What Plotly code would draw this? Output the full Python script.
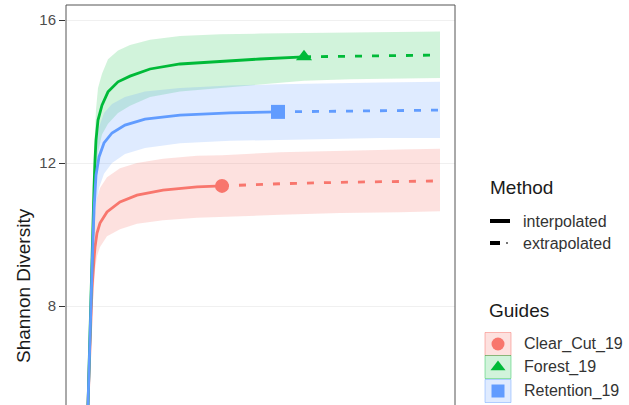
import plotly.graph_objects as go

# ---------------- data ----------------
sites = ["Clear_Cut_19", "Forest_19", "Retention_19"]
colors = ["#F8766D", "#00BA38", "#619CFF"]
bands = ["rgba(248,118,109,0.22)", "rgba(0,186,56,0.18)", "rgba(97,156,255,0.20)"]
key_lines = ["rgba(248,118,109,0.5)", "rgba(0,186,56,0.4)", "rgba(97,156,255,0.45)"]
symbols = ["circle", "triangle-up", "square"]

# Clear_Cut_19
cc_m = [8, 10, 12, 14, 15, 17, 20, 27, 40, 57, 83, 117, 142, 200, 260, 320, 360]
cc_qD = [5.23, 7.0, 8.5, 9.3, 9.65, 10.04, 10.32, 10.63, 10.91, 11.10, 11.24, 11.33, 11.36, 11.42, 11.46, 11.48, 11.50]
cc_up = [5.9, 7.8, 9.3, 10.2, 10.6, 11.0, 11.3, 11.6, 11.85, 12.0, 12.12, 12.2, 12.22, 12.3, 12.35, 12.38, 12.4]
cc_lo = [4.6, 6.2, 7.7, 8.6, 9.0, 9.4, 9.65, 9.95, 10.15, 10.3, 10.4, 10.47, 10.5, 10.55, 10.6, 10.62, 10.65]
cc_obs = 142

# Forest_19
fo_m = [8, 10, 12, 14, 15, 16, 18, 22, 28, 38, 50, 70, 100, 140, 180, 224, 270, 320, 360]
fo_qD = [5.23, 7.5, 9.5, 11.3, 12.08, 12.64, 13.20, 13.62, 13.99, 14.27, 14.43, 14.63, 14.77, 14.85, 14.91, 14.97, 14.99, 15.01, 15.02]
fo_up = [5.7, 8.1, 10.2, 12.1, 12.9, 13.5, 14.1, 14.5, 14.9, 15.15, 15.3, 15.45, 15.55, 15.6, 15.62, 15.63, 15.65, 15.67, 15.68]
fo_lo = [4.8, 6.9, 8.8, 10.5, 11.3, 11.8, 12.3, 12.8, 13.1, 13.4, 13.6, 13.85, 14.0, 14.1, 14.2, 14.3, 14.34, 14.37, 14.38]
fo_obs = 224

# Retention_19
re_m = [8, 10, 12, 14, 16, 19, 24, 32, 45, 65, 100, 150, 198, 250, 300, 360]
re_qD = [5.23, 7.33, 9.01, 10.69, 11.66, 12.17, 12.56, 12.84, 13.06, 13.23, 13.34, 13.40, 13.43, 13.45, 13.47, 13.48]
re_up = [5.9, 8.0, 9.8, 11.5, 12.5, 13.0, 13.4, 13.65, 13.85, 14.0, 14.1, 14.17, 14.2, 14.23, 14.25, 14.27]
re_lo = [4.6, 6.7, 8.3, 9.9, 10.8, 11.3, 11.7, 12.0, 12.25, 12.42, 12.55, 12.62, 12.66, 12.68, 12.7, 12.7]
re_obs = 198

y_ticks = [8, 12, 16]
method_labels = ["interpolated", "extrapolated"]

series = [
    (cc_m, cc_qD, cc_up, cc_lo, cc_obs),
    (fo_m, fo_qD, fo_up, fo_lo, fo_obs),
    (re_m, re_qD, re_up, re_lo, re_obs),
]

W, H = 629, 405
PL, PR, PT, PB = 66, 455, 5, 405
FONT = "Liberation Sans, Arial, sans-serif"

fig = go.Figure()

# confidence bands
for (m, qD, up, lo, obs), band in zip(series, bands):
    fig.add_trace(go.Scatter(
        x=m + m[::-1], y=up + lo[::-1], fill="toself", fillcolor=band,
        line=dict(width=0), mode="lines", hoverinfo="skip", showlegend=False))

# lines
for (m, qD, up, lo, obs), col in zip(series, colors):
    k = m.index(obs)
    fig.add_trace(go.Scatter(x=m[:k + 1], y=qD[:k + 1], mode="lines",
                             line=dict(color=col, width=2.8), showlegend=False))
    fig.add_trace(go.Scatter(x=m[k:], y=qD[k:], mode="lines",
                             line=dict(color=col, width=2.8, dash="7px,10px"),
                             showlegend=False))

# observed points
for (m, qD, up, lo, obs), col, sym in zip(series, colors, symbols):
    k = m.index(obs)
    fig.add_trace(go.Scatter(x=[m[k]], y=[qD[k]], mode="markers",
                             marker=dict(color=col, symbol=sym, size=14),
                             showlegend=False))

# ---------------- legend (drawn in a transparent pixel overlay) ----------------
fig.add_trace(go.Scatter(x=[490, 510], y=[221, 221], mode="lines", xaxis="x2", yaxis="y2",
                         line=dict(color="black", width=4), showlegend=False, hoverinfo="skip"))
fig.add_trace(go.Scatter(x=[490, 500], y=[243, 243], mode="lines", xaxis="x2", yaxis="y2",
                         line=dict(color="black", width=4), showlegend=False, hoverinfo="skip"))
fig.add_trace(go.Scatter(x=[506, 508], y=[243, 243], mode="lines", xaxis="x2", yaxis="y2",
                         line=dict(color="#777777", width=2), showlegend=False, hoverinfo="skip"))

key_y = [344, 367, 391]
shapes = []
for yy, band, kl, col, sym in zip(key_y, bands, key_lines, colors, symbols):
    shapes.append(dict(type="rect", xref="x2", yref="y2", x0=485, x1=511,
                       y0=yy - 11.5, y1=yy + 11.5, fillcolor=band,
                       line=dict(color=kl, width=1), layer="below"))
    fig.add_trace(go.Scatter(x=[498], y=[yy], mode="markers", xaxis="x2", yaxis="y2",
                             marker=dict(color=col, symbol=sym, size=13),
                             showlegend=False, hoverinfo="skip", cliponaxis=False))

# panel border (top, left, right)
for x0, y0, x1, y1 in [(0, 1, 1, 1), (0, 0, 0, 1), (1, 0, 1, 1)]:
    shapes.append(dict(type="line", xref="x domain", yref="y domain",
                       x0=x0, y0=y0, x1=x1, y1=y1, line=dict(color="#555555", width=1)))

annotations = []
def px_text(text, x, y, size, color="#1a1a1a", angle=0, anchor="left"):
    annotations.append(dict(text=text, xref="paper", yref="paper", x=x / W, y=1 - y / H,
                            xanchor=anchor, yanchor="middle", showarrow=False, textangle=angle,
                            font=dict(size=size, color=color, family=FONT)))

px_text("Method", 488, 188, 19)
px_text(method_labels[0], 521, 221, 16, color="#333333")
px_text(method_labels[1], 521, 243, 16, color="#333333")
px_text("Guides", 487, 310, 19)
for yy, s in zip(key_y, sites):
    px_text(s, 522, yy, 16, color="#333333")
px_text("Shannon Diversity", 23, 286, 19, angle=-90, anchor="center")

fig.update_layout(
    width=W, height=H,
    margin=dict(l=0, r=0, t=0, b=0),
    paper_bgcolor="white", plot_bgcolor="rgba(0,0,0,0)",
    showlegend=False,
    font=dict(family=FONT, color="#1a1a1a"),
    xaxis=dict(domain=[PL / W, PR / W], range=[-14, 375], showticklabels=False,
               ticks="", showgrid=False, zeroline=False, showline=False, automargin=False),
    yaxis=dict(domain=[0, (PB - PT) / H], range=[5.231, 16.42], tickvals=y_ticks,
               ticks="outside", ticklen=6, tickcolor="#333333", tickwidth=1,
               tickfont=dict(size=15, color="#4d4d4d", family=FONT),
               showgrid=True, gridcolor="#f0f0f0", gridwidth=1, zeroline=False,
               showline=False, automargin=False),
    xaxis2=dict(domain=[0, 1], range=[0, W], visible=False, anchor="y2"),
    yaxis2=dict(domain=[0, 1], range=[H, 0], visible=False, anchor="x2"),
    shapes=shapes,
    annotations=annotations,
)

fig.write_html("out.html", config={"displayModeBar": False},
               post_script="document.body.style.margin='0';document.body.style.overflow='hidden';")
